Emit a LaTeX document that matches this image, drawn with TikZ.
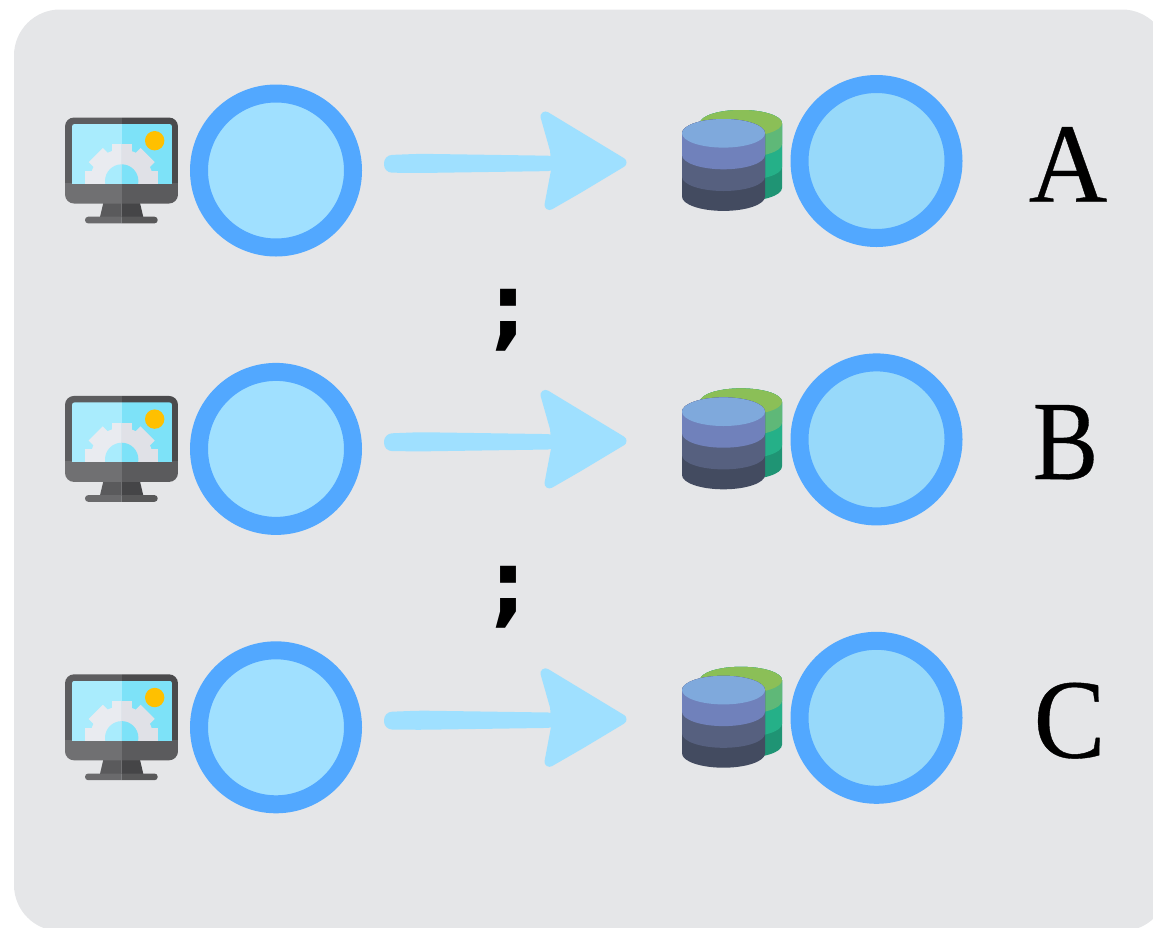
\documentclass[tikz,border=0pt]{standalone}
\usepackage{fontspec}
\setmainfont{Liberation Serif}
\newfontfamily\letterfont[FakeBold=0.35]{Liberation Serif}
\newfontfamily\semifont{DejaVu Sans}
\definecolor{panel}{HTML}{E5E6E8}
\definecolor{ring}{HTML}{52A8FF}
\definecolor{srcfill}{HTML}{A0E0FF}
\definecolor{dstfill}{HTML}{97D9FA}
\definecolor{arrowc}{HTML}{9FE0FF}
\definecolor{scrL}{HTML}{A9ECFD}
\definecolor{scrR}{HTML}{7DE2F8}
\definecolor{gearL}{HTML}{E9EBF0}
\definecolor{gearR}{HTML}{E0E1E7}
\definecolor{sunc}{HTML}{FFC000}
\definecolor{bezL}{HTML}{5D5D5F}
\definecolor{bezR}{HTML}{4A4A4C}
\definecolor{chinL}{HTML}{707072}
\definecolor{chinR}{HTML}{5B5B5D}
\definecolor{stL}{HTML}{5A5A5C}
\definecolor{stR}{HTML}{454547}
\definecolor{baseL}{HTML}{6A6A6C}
\definecolor{baseR}{HTML}{585859}
\definecolor{dbA}{HTML}{7FA9DC}
\definecolor{dbB}{HTML}{7081BB}
\definecolor{dbC}{HTML}{56607F}
\definecolor{dbD}{HTML}{434B60}
\definecolor{bkA}{HTML}{8BBF57}
\definecolor{bkB}{HTML}{5FB878}
\definecolor{bkC}{HTML}{25B088}
\definecolor{bkD}{HTML}{1F9474}
\tikzset{
  ringnode/.style={circle,draw=ring,line width=18pt,minimum size=154pt,inner sep=0pt,outer sep=0pt},
  srcnode/.style={ringnode,fill=srcfill},
  dstnode/.style={ringnode,fill=dstfill},
  letter/.style={anchor=base,inner sep=0pt,font=\letterfont\fontsize{113}{113}\selectfont},
  semi/.style={anchor=base,inner sep=0pt,font=\semifont\bfseries\fontsize{90}{90}\selectfont},
  arrowshape/.style={fill=arrowc,draw=arrowc,line width=10pt,line join=round}
}
% gear centred on the lower screen edge
\newcommand{\geardraw}[1]{%
  \fill[#1] (121.7,181) circle[radius=31.5pt];
  \foreach \a in {0,45,...,315}{
    \fill[#1,rotate around={\a:(121.7,181)}] (111.7,144.3) rectangle (131.7,170);
  }%
}
\newcommand{\monitoricon}{%
  % stand and foot
  \fill[stL] (103.3,203) -- (100,217) -- (121.7,217) -- (121.7,203) -- cycle;
  \fill[stR] (121.7,203) -- (121.7,217) -- (143.3,217) -- (140,203) -- cycle;
  \begin{scope}
    \clip (60,210) rectangle (121.7,230);
    \fill[baseL,rounded corners=3.2pt] (85,216.7) rectangle (157.7,223.4);
  \end{scope}
  \begin{scope}
    \clip (121.7,210) rectangle (170,230);
    \fill[baseR,rounded corners=3.2pt] (85,216.7) rectangle (157.7,223.4);
  \end{scope}
  % housing
  \begin{scope}
    \clip[rounded corners=9pt] (65,117.5) rectangle (178,203.5);
    \fill[bezL] (65,117) rectangle (121.7,183);
    \fill[bezR] (121.7,117) rectangle (178,183);
    \fill[chinL] (65,183) rectangle (121.7,204);
    \fill[chinR] (121.7,183) rectangle (178,204);
  \end{scope}
  % screen
  \begin{scope}
    \clip[rounded corners=2.5pt] (72,124) rectangle (172,190);
    \clip (72,124) rectangle (172,183.2);
    \fill[scrL] (72,124) rectangle (121.7,184);
    \fill[scrR] (121.7,124) rectangle (172,184);
    \begin{scope}
      \clip (72,124) rectangle (121.7,184);
      \geardraw{gearL}
      \fill[scrL] (121.7,181) circle[radius=16.7pt];
    \end{scope}
    \begin{scope}
      \clip (121.7,124) rectangle (172,184);
      \geardraw{gearR}
      \fill[scrR] (121.7,181) circle[radius=16.7pt];
    \end{scope}
    \fill[sunc] (154.7,140.7) circle[radius=9.7pt];
  \end{scope}
}
% #1 colour, #2 centre x, #3 top y, #4 lower y, #5 rx, #6 ry
\newcommand{\dbband}[6]{%
  \fill[#1] (#2-#5,#3) -- (#2-#5,#4) arc[start angle=180,end angle=360,x radius=#5pt,y radius=#6pt]
    -- (#2+#5,#3) arc[start angle=0,end angle=180,x radius=#5pt,y radius=#6pt] -- cycle;
}
\newcommand{\dbicon}{%
  \dbband{bkD}{741}{123.3}{188}{41}{13.3}
  \dbband{bkC}{741}{123.3}{167}{41}{13.3}
  \dbband{bkB}{741}{123.3}{144}{41}{13.3}
  \fill[bkA] (741,123.3) ellipse[x radius=41pt,y radius=13.3pt];
  \dbband{dbD}{723.5}{133.3}{196.6}{41.5}{14.3}
  \dbband{dbC}{723.5}{133.3}{176.7}{41.5}{14.3}
  \dbband{dbB}{723.5}{133.3}{155}{41.5}{14.3}
  \fill[dbA] (723.5,133.3) ellipse[x radius=41.5pt,y radius=14.3pt];
}
\newcommand{\handarrow}{%
  \fill[arrowc,rounded corners=8pt] (384,155.2) -- (420,153.8) -- (556,155.8) -- (556,171) -- (420,173) -- (384,172.6) -- cycle;
  \path[arrowshape] (545.5,116.5) -- (621.5,162.5) -- (579,188) -- (549.5,205) -- (556.5,168) -- (555,150) -- cycle;
}
\begin{document}
\begin{tikzpicture}[x=1pt,y=-1pt]
\useasboundingbox (0,0) rectangle (1153,927);
\clip (0,0) rectangle (1153,927);
\fill[panel,rounded corners=46pt] (14,9.5) rectangle (1168,931);
\foreach \r/\dy in {a/0,b/278.4,c/556.8}{
  \begin{scope}[yshift=-\dy pt]
    \monitoricon
    \handarrow
    \dbicon
    \node[srcnode] (src\r) at (276,170.5) {};
    \node[dstnode] (dst\r) at (876.5,161) {};
  \end{scope}
}
\node[letter,xscale=0.96] (laba) at (1068,201.7) {A};
\node[letter,xscale=0.87] (labb) at (1065.5,479) {B};
\node[letter,xscale=0.95] (labc) at (1069.5,757.5) {C};
\node[semi] (semione) at (508,338) {;};
\node[semi] (semitwo) at (508,615.5) {;};
\end{tikzpicture}
\end{document}
